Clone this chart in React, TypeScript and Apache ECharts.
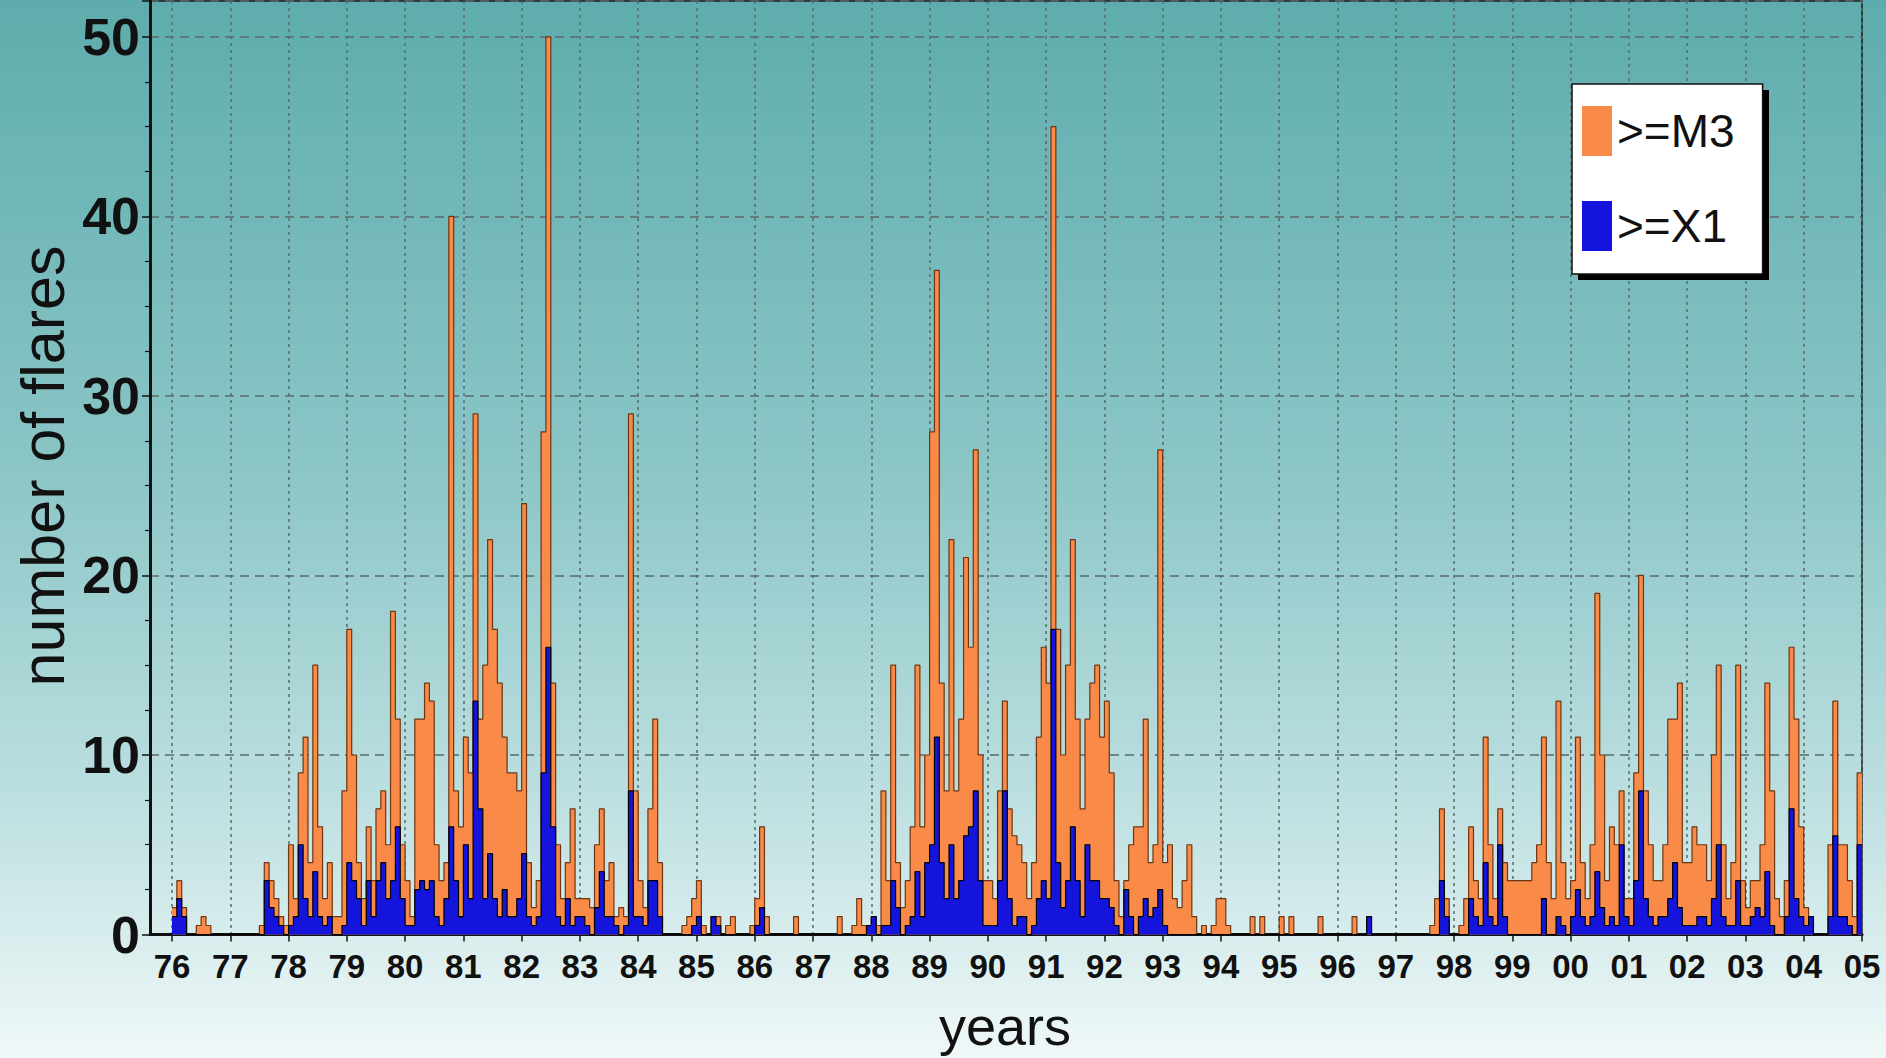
import React, { useEffect, useRef } from "react";
import * as echarts from "echarts";

// Time span of the monthly series
const START_YEAR = 1976;
const END_YEAR = 2005;
const X_MIN = 1975.6225;

// Year ticks along the bottom axis
const tickYears: number[] = [];
for (let y = START_YEAR; y <= END_YEAR; y++) tickYears.push(y);

// Monthly number of flares of class M3 and above (Jan 1976 .. Dec 2004)
const m3Counts: number[] = [
  /* 1976 */ 1.5, 3, 1.5, 0, 0, 0.5, 1, 0.5, 0, 0, 0, 0,
  /* 1977 */ 0, 0, 0, 0, 0, 0, 0.5, 4, 3, 2, 1, 0.5,
  /* 1978 */ 5, 2, 9, 11, 4, 15, 6, 2, 4, 1, 1, 8,
  /* 1979 */ 17, 10, 4, 2, 6, 3, 7, 8, 5, 18, 12, 5,
  /* 1980 */ 3, 1, 12, 12, 14, 13, 5, 3, 4, 40, 8, 6,
  /* 1981 */ 11, 9, 29, 12, 15, 22, 17, 14, 11, 9, 9, 8,
  /* 1982 */ 24, 4, 1.5, 3, 28, 50, 14, 5, 2, 4, 7, 2,
  /* 1983 */ 2, 2, 1.5, 5, 7, 3, 4, 1, 1.5, 1, 29, 8,
  /* 1984 */ 3, 1.5, 7, 12, 4, 0, 0, 0, 0, 0.5, 1, 2,
  /* 1985 */ 3, 0.5, 0, 1, 1, 0, 0.5, 1, 0, 0, 0, 0.5,
  /* 1986 */ 2, 6, 1, 0, 0, 0, 0, 0, 1, 0, 0, 0,
  /* 1987 */ 0, 0, 0, 0, 0, 1, 0, 0, 0.5, 2, 0.5, 0.5,
  /* 1988 */ 1, 0.5, 8, 3, 15, 4, 1.5, 3, 6, 15, 6, 10,
  /* 1989 */ 28, 37, 14, 8, 22, 8, 12, 21, 16, 27, 10, 3,
  /* 1990 */ 3, 2, 8, 13, 7, 5.5, 5, 4, 2, 4, 11, 16,
  /* 1991 */ 14, 45, 17, 10, 15, 22, 12, 7, 12, 14, 15, 11,
  /* 1992 */ 13, 9, 3, 1, 3, 5, 6, 6, 12, 4, 5, 27,
  /* 1993 */ 4, 5, 2, 1.5, 3, 5, 1, 0, 0.5, 0, 0.5, 2,
  /* 1994 */ 2, 0.5, 0, 0, 0, 0, 1, 0, 1, 0, 0, 0,
  /* 1995 */ 1, 0, 1, 0, 0, 0, 0, 0, 1, 0, 0, 0,
  /* 1996 */ 0, 0, 0, 1, 0, 0, 1, 0, 0, 0, 0, 0,
  /* 1997 */ 0, 0, 0, 0, 0, 0, 0, 0.5, 2, 7, 2, 0,
  /* 1998 */ 0, 0.5, 2, 6, 3, 2, 11, 5, 2, 7, 4, 3,
  /* 1999 */ 3, 3, 3, 3, 4, 5, 11, 4, 2, 13, 4, 2,
  /* 2000 */ 3, 11, 4, 2, 5, 19, 10, 3, 6, 5, 8, 2,
  /* 2001 */ 2, 9, 20, 8, 5, 3, 3, 5, 12, 12, 14, 4,
  /* 2002 */ 4, 6, 5, 5, 3, 10, 15, 5, 2, 4, 15, 3,
  /* 2003 */ 1.5, 3, 3, 5, 14, 8, 2, 1, 3, 16, 12, 6,
  /* 2004 */ 1.5, 1, 0, 0, 0, 5, 13, 5, 5, 3, 1, 9,
];

// Monthly number of flares of class X1 and above (Jan 1976 .. Dec 2004)
const x1Counts: number[] = [
  /* 1976 */ 1, 2, 1, 0, 0, 0, 0, 0, 0, 0, 0, 0,
  /* 1977 */ 0, 0, 0, 0, 0, 0, 0, 3, 1.5, 1, 0.5, 0,
  /* 1978 */ 0.5, 1, 5, 2, 1, 3.5, 1, 0.5, 1, 0, 0, 0.5,
  /* 1979 */ 4, 3, 2, 0.5, 3, 1, 3, 4, 2, 3, 6, 2,
  /* 1980 */ 0.5, 0.5, 2.5, 3, 2.5, 3, 1, 0.5, 2, 6, 3, 1,
  /* 1981 */ 5, 2, 13, 7, 2, 4.5, 2, 1, 2.5, 1, 1, 2,
  /* 1982 */ 4.5, 1, 0.5, 1, 9, 16, 6, 1, 0.5, 2, 0.5, 1,
  /* 1983 */ 1, 0.5, 0, 1.5, 3.5, 1, 1, 0.5, 0, 0.5, 8, 1,
  /* 1984 */ 1, 0.5, 3, 3, 1, 0, 0, 0, 0, 0, 0, 0.5,
  /* 1985 */ 1, 0, 0, 1, 0.5, 0, 0, 0, 0, 0, 0, 0,
  /* 1986 */ 0.5, 1.5, 0, 0, 0, 0, 0, 0, 0, 0, 0, 0,
  /* 1987 */ 0, 0, 0, 0, 0, 0, 0, 0, 0, 0, 0, 0.5,
  /* 1988 */ 1, 0, 0.5, 0.5, 3, 1.5, 0, 0.5, 1, 3.5, 1, 4,
  /* 1989 */ 5, 11, 4, 2, 5, 2, 3, 5.5, 6, 8, 3, 0.5,
  /* 1990 */ 0.5, 0.5, 3, 8, 2, 0.5, 1, 1, 0, 0.5, 2, 3,
  /* 1991 */ 2, 17, 4, 1.5, 3, 6, 3, 1, 5, 3, 3, 2,
  /* 1992 */ 2, 1.5, 0.5, 0, 2.5, 1, 0, 1, 2, 1, 1.5, 2.5,
  /* 1993 */ 0.5, 0, 0, 0, 0, 0, 0, 0, 0, 0, 0, 0,
  /* 1994 */ 0, 0, 0, 0, 0, 0, 0, 0, 0, 0, 0, 0,
  /* 1995 */ 0, 0, 0, 0, 0, 0, 0, 0, 0, 0, 0, 0,
  /* 1996 */ 0, 0, 0, 0, 0, 0, 1, 0, 0, 0, 0, 0,
  /* 1997 */ 0, 0, 0, 0, 0, 0, 0, 0, 0, 3, 1, 0,
  /* 1998 */ 0, 0, 0, 2, 1, 0.5, 4, 1, 0.5, 5, 1, 0,
  /* 1999 */ 0, 0, 0, 0, 0, 0, 2, 0, 0, 1, 0.5, 0,
  /* 2000 */ 1, 2.5, 1, 0.5, 1, 3.5, 1.5, 0.5, 1, 0.5, 5, 1,
  /* 2001 */ 0.5, 3, 8, 2, 1, 0.5, 1, 1, 2, 4, 1.5, 0.5,
  /* 2002 */ 0.5, 0.5, 1, 1, 0.5, 2, 5, 1, 0.5, 0.5, 3, 0.5,
  /* 2003 */ 0.5, 1, 1.5, 1, 3.5, 0.5, 0, 0, 1, 7, 2, 1,
  /* 2004 */ 0.5, 1, 0, 0, 0, 1, 5.5, 1, 1, 0.5, 0, 5,
];

const seriesNames = [">=M3", ">=X1"];
const M3_COLOR = "#F98A48";
const X1_COLOR = "#1414DC";
const FONT = "'Liberation Sans', Arial, Helvetica, sans-serif";

// Each month is a step starting at its first day; close the last step at END_YEAR
function toSteps(values: number[]): number[][] {
  const pts = values.map((v, i) => [START_YEAR + i / 12, v]);
  pts.push([END_YEAR, values[values.length - 1]]);
  return pts;
}

export default function App() {
  const ref = useRef<HTMLDivElement>(null);

  useEffect(() => {
    if (!ref.current) return;
    const chart = echarts.init(ref.current, undefined, { renderer: "svg" });

    chart.setOption({
      animation: false,
      backgroundColor: new echarts.graphic.LinearGradient(0, 0, 0, 1, [
        { offset: 0, color: "#5EACAD" },
        { offset: 0.45, color: "#8CC6C7" },
        { offset: 0.75, color: "#BCDFE0" },
        { offset: 1, color: "#F0F8F8" },
      ]),
      grid: {
        left: 150,
        right: 24,
        top: 1,
        bottom: 123.5,
        show: true,
        borderColor: "#1a1a1a",
        borderWidth: 1.5,
        backgroundColor: "transparent",
      },
      xAxis: {
        type: "value",
        min: X_MIN,
        max: END_YEAR,
        axisLine: { show: true, onZero: false, lineStyle: { color: "#111", width: 3 } },
        axisTick: {
          show: true,
          customValues: tickYears,
          length: 7,
          lineStyle: { color: "#111", width: 1.5 },
        },
        axisLabel: {
          customValues: tickYears,
          formatter: (v: number) => String(Math.round(v) % 100).padStart(2, "0"),
          fontSize: 33,
          fontWeight: "bold",
          fontFamily: FONT,
          color: "#111",
          margin: 15,
        },
        splitLine: {
          show: true,
          lineStyle: { color: "#5a6a6a", width: 1.5, type: [3, 4] },
        },
      },
      yAxis: {
        type: "value",
        min: 0,
        max: 52,
        interval: 10,
        axisLine: { show: true, lineStyle: { color: "#111", width: 3 } },
        axisTick: { show: true, length: 8, lineStyle: { color: "#111", width: 1.5 } },
        minorTick: { show: true, splitNumber: 4, length: 5, lineStyle: { color: "#111", width: 1.2 } },
        axisLabel: {
          formatter: (v: number) => (v % 10 === 0 ? String(v) : ""),
          fontSize: 52,
          fontWeight: "bold",
          fontFamily: FONT,
          color: "#111",
          margin: 10,
        },
        splitLine: {
          show: true,
          lineStyle: { color: "#5a6a6a", width: 1.5, type: [9, 6] },
        },
      },
      legend: {
        orient: "vertical",
        left: 1572,
        top: 84,
        padding: [22, 28, 23, 10],
        itemWidth: 30,
        itemHeight: 50,
        itemGap: 45,
        symbolKeepAspect: false,
        backgroundColor: "#ffffff",
        borderColor: "#111",
        borderWidth: 1.5,
        textStyle: { fontSize: 46, color: "#111", fontFamily: FONT },
        data: [
          { name: seriesNames[0], icon: "rect", itemStyle: { color: M3_COLOR, borderWidth: 0 } },
          { name: seriesNames[1], icon: "rect", itemStyle: { color: X1_COLOR, borderWidth: 0 } },
        ],
      },
      graphic: [
        {
          type: "rect",
          z: 3,
          silent: true,
          shape: { x: 1578, y: 90, width: 191, height: 190 },
          style: { fill: "#000" },
        },
        {
          type: "text",
          x: 43,
          y: 466,
          rotation: Math.PI / 2,
          silent: true,
          style: {
            text: "number of flares",
            fontSize: 61,
            fontFamily: FONT,
            fill: "#111",
            align: "center",
            verticalAlign: "middle",
          },
        },
        {
          type: "text",
          x: 1005,
          y: 1026,
          silent: true,
          style: {
            text: "years",
            fontSize: 54,
            fontFamily: FONT,
            fill: "#111",
            align: "center",
            verticalAlign: "middle",
          },
        },
      ],
      series: [
        {
          type: "line",
          name: seriesNames[0],
          data: toSteps(m3Counts),
          step: "end",
          symbol: "none",
          showSymbol: false,
          z: 2,
          itemStyle: { color: M3_COLOR },
          lineStyle: { color: "#6e3612", width: 1.2 },
          areaStyle: { color: M3_COLOR, opacity: 1 },
        },
        {
          type: "line",
          name: seriesNames[1],
          data: toSteps(x1Counts),
          step: "end",
          symbol: "none",
          showSymbol: false,
          z: 2.5,
          itemStyle: { color: X1_COLOR },
          lineStyle: { color: "#000", width: 1.2 },
          areaStyle: { color: X1_COLOR, opacity: 1 },
        },
      ],
    });

    return () => chart.dispose();
  }, []);

  return (
    <div
      ref={ref}
      style={{ position: "fixed", left: 0, top: 0, width: 1886, height: 1058 }}
    />
  );
}
